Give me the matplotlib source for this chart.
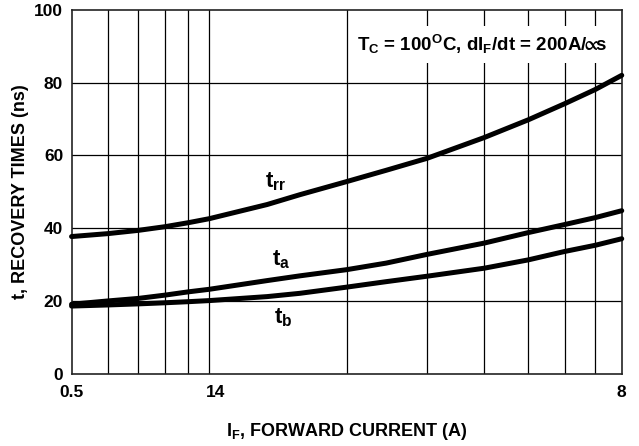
import matplotlib
matplotlib.use("Agg")
import matplotlib.pyplot as plt
import matplotlib.transforms as mtransforms

plt.rcParams['font.family'] = ['Liberation Sans', 'DejaVu Sans']
plt.rcParams['font.weight'] = 'bold'
plt.rcParams['mathtext.default'] = 'regular'

# Data
current = [0.5, 0.6, 0.7, 0.8, 0.9, 1.0, 1.34, 1.58, 2.0, 2.44, 3.0, 4.0, 5.0, 6.0, 7.0, 8.0]
t_rr = [37.7, 38.5, 39.4, 40.4, 41.5, 42.6, 46.5, 49.2, 52.8, 55.9, 59.2, 64.9, 69.8, 74.2, 78.1, 82.0]
t_a = [19.1, 20.0, 20.7, 21.6, 22.5, 23.2, 25.6, 26.9, 28.6, 30.4, 32.8, 35.9, 38.8, 41.0, 42.9, 44.8]
t_b = [18.6, 18.9, 19.2, 19.5, 19.8, 20.1, 21.2, 22.1, 23.8, 25.3, 26.8, 29.0, 31.3, 33.6, 35.3, 37.1]

grid_x = [0.6, 0.7, 0.8, 0.9, 1, 2, 3, 4, 5, 6, 7]
grid_y = [20, 40, 60, 80]
xtick_pos = [0.5, 1, 8]
xtick_labels = ["0.5", "14", "8"]
ytick_pos = [0, 20, 40, 60, 80, 100]
ytick_labels = ["0", "20", "40", "60", "80", "100"]

fig = plt.figure(figsize=(6.39, 4.46), dpi=100)
ax = fig.add_axes([0.112, 0.162, 0.861, 0.816])
ax.set_xscale('log')
ax.set_xlim(0.5, 8)
ax.set_ylim(0, 100)

for gx in grid_x:
    ax.axvline(gx, color='black', lw=0.9, zorder=1)
for gy in grid_y:
    ax.axhline(gy, color='black', lw=0.9, zorder=1)

for series in (t_rr, t_a, t_b):
    ax.plot(current, series, color='black', lw=3.6, solid_capstyle='round',
            solid_joinstyle='round', zorder=3, clip_on=False)

ax.minorticks_off()
ax.set_xticks(xtick_pos)
ax.set_xticklabels(xtick_labels)
ax.set_yticks(ytick_pos)
ax.set_yticklabels(ytick_labels)
ax.tick_params(axis='both', length=0, labelsize=12.5)
ax.tick_params(axis='x', pad=8)
ax.tick_params(axis='y', pad=6)
for lbl in ax.get_xticklabels():
    lbl.set_fontweight('bold')
    if lbl.get_text() == "14":
        lbl.set_transform(lbl.get_transform() + mtransforms.ScaledTranslation(6/100, 0, fig.dpi_scale_trans))
for lbl in ax.get_yticklabels():
    lbl.set_fontweight('bold')

for sp in ax.spines.values():
    sp.set_linewidth(1.2)
    sp.set_color('#222222')

ax.set_ylabel("t, RECOVERY TIMES (ns)", fontsize=13, fontweight='bold', labelpad=4)
ax.set_xlabel("I$_F$, FORWARD CURRENT (A)", fontsize=13, fontweight='bold', labelpad=15)

ax.text(1.40, 52.7, "t$_{rr}$", fontsize=16, fontweight='bold', ha='center', va='center', zorder=4)
ax.text(1.436, 31.2, "t$_{a}$", fontsize=16, fontweight='bold', ha='center', va='center', zorder=4)
ax.text(1.45, 15.3, "t$_{b}$", fontsize=16, fontweight='bold', ha='center', va='center', zorder=4)

ax.text(0.745, 0.905, "T$_C$ = 100$^O$C, dI$_F$/dt = 200A/$\\!\\!\\propto\\!\\!$s", transform=ax.transAxes,
        fontsize=13.5, fontweight='bold', ha='center', va='center', zorder=5,
        bbox=dict(facecolor='white', edgecolor='none', pad=5))

fig.savefig("out.png", dpi=100)
